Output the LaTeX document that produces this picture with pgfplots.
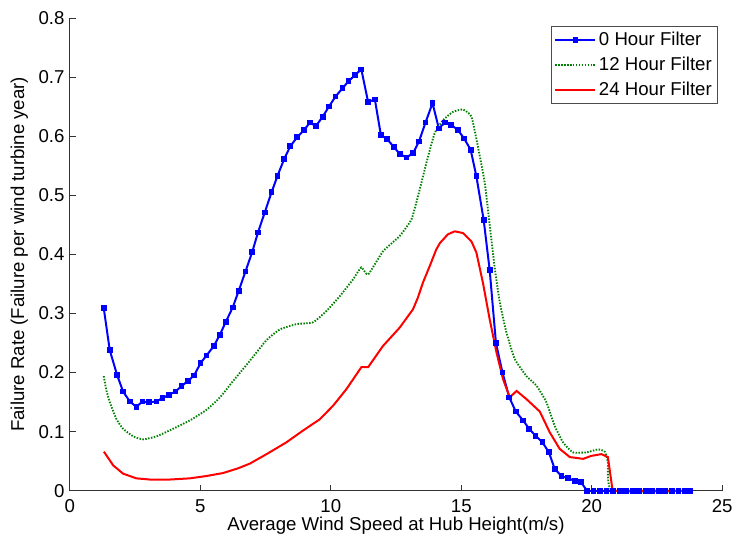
\documentclass[border=0pt]{standalone}
\usepackage{fontspec}
\setmainfont{Liberation Sans}
\usepackage{pgfplots}
\pgfplotsset{compat=1.18}

\definecolor{mblue}{RGB}{0,0,255}
\definecolor{mgreen}{RGB}{0,128,0}
\definecolor{mred}{RGB}{255,0,0}

\begin{document}
\begin{tikzpicture}
\begin{axis}[
    name=ax,
    scale only axis,
    width=490.5pt, height=355.5pt,
    xmin=0, xmax=25, ymin=0, ymax=0.8,
    xtick={0,5,...,25},
    ytick={0,0.1,...,0.8},
    yticklabels={0,0.1,0.2,0.3,0.4,0.5,0.6,0.7,0.8},
    axis lines*=left,
    axis line style={line width=0.6pt, black!80},
    tick align=inside,
    major tick length=4.5pt,
    tick style={black!80, line width=0.6pt},
    font=\fontsize{14}{16.8}\selectfont,
    /pgf/number format/assume math mode=true,
    xticklabel style={anchor=north, inner ysep=0pt, text height=10pt, text depth=0pt, yshift=-6pt},
    yticklabel style={xshift=-0.5pt},
    every axis x label/.style={at={(axis description cs:0.5,0)}, yshift=-26pt, anchor=center,
        inner ysep=0pt},
    every axis y label/.style={at={(axis description cs:0,0.5)}, xshift=-38pt, rotate=90, anchor=center},
    xlabel={Average Wind Speed at Hub Height(m/s)},
    ylabel={Failure Rate (Failure per wind turbine year)},
    clip=false,
    legend cell align=left,
    legend style={at={(0.993,0.984)}, anchor=north east, draw=black!70, line width=0.8pt,
        font=\fontsize{14}{16.8}\selectfont, row sep=3.2pt, inner xsep=2pt, inner ysep=2.5pt},
    legend image code/.code={\draw[#1] (0pt,0pt) -- (30pt,0pt);
        \draw[#1, mark repeat=1] plot coordinates {(15pt,0pt)};},
]
\addplot[mblue, line width=1.5pt, mark=square*, mark size=1.4pt] coordinates {
(1.30,0.309) (1.53,0.238) (1.81,0.196) (2.04,0.168) (2.30,0.151) (2.55,0.142)
(2.78,0.151) (3.04,0.150) (3.32,0.151) (3.55,0.157) (3.79,0.162) (4.05,0.168)
(4.28,0.177) (4.53,0.186) (4.76,0.195) (5.01,0.216) (5.24,0.229) (5.52,0.245)
(5.75,0.264) (5.98,0.286) (6.24,0.310) (6.47,0.338) (6.73,0.371) (6.99,0.404)
(7.21,0.437) (7.47,0.471) (7.73,0.505) (7.96,0.533) (8.21,0.561) (8.45,0.583)
(8.71,0.598) (8.97,0.610) (9.20,0.623) (9.43,0.617) (9.69,0.633) (9.93,0.650)
(10.18,0.667) (10.45,0.681) (10.68,0.693) (10.92,0.703) (11.17,0.713) (11.43,0.658)
(11.69,0.662) (11.92,0.602) (12.16,0.595) (12.41,0.582) (12.64,0.570) (12.90,0.564)
(13.15,0.571) (13.38,0.591) (13.63,0.623) (13.90,0.656) (14.14,0.613) (14.37,0.623)
(14.62,0.619) (14.88,0.610) (15.11,0.596) (15.36,0.577) (15.58,0.532) (15.86,0.458)
(16.09,0.373) (16.33,0.250) (16.58,0.200) (16.84,0.158) (17.09,0.134) (17.37,0.119)
(17.60,0.105) (17.85,0.093) (18.11,0.082) (18.36,0.065) (18.58,0.037) (18.84,0.025)
(19.09,0.021) (19.35,0.017) (19.58,0.015) (19.82,0) (20.07,0) (20.32,0)
(20.57,0) (20.82,0) (21.07,0) (21.32,0) (21.57,0) (21.82,0) (22.07,0) (22.32,0)
(22.57,0) (22.82,0) (23.07,0) (23.32,0) (23.57,0) (23.77,0)
};
\addlegendentry{0 Hour Filter}
\addplot[mgreen, line width=1.4pt, dash pattern=on 1.1pt off 1.1pt, smooth, tension=0.3] coordinates {
(1.30,0.194) (1.40,0.170) (1.53,0.150) (1.79,0.121) (2.04,0.105) (2.43,0.092)
(2.81,0.087) (3.32,0.092) (3.96,0.105) (4.60,0.119) (5.00,0.130) (5.24,0.137)
(5.62,0.152) (5.87,0.164) (6.26,0.186) (6.45,0.196) (6.90,0.220) (7.54,0.255)
(8.05,0.273) (8.69,0.282) (9.32,0.285) (9.83,0.304) (10.34,0.329) (10.86,0.358)
(11.17,0.378) (11.43,0.366) (12.00,0.405) (12.64,0.431) (13.09,0.459) (13.34,0.498)
(13.66,0.554) (13.98,0.605) (14.30,0.627) (14.68,0.641) (15.07,0.645) (15.39,0.633)
(15.64,0.582) (15.90,0.521) (16.09,0.450) (16.28,0.378) (16.48,0.318) (16.73,0.268)
(17.05,0.223) (17.50,0.194) (17.88,0.178) (18.26,0.150) (18.58,0.110) (18.90,0.082)
(19.28,0.065) (19.80,0.065) (20.24,0.070) (20.50,0.066) (20.62,0.048) (20.80,0)
(23.77,0)
};
\addlegendentry{12 Hour Filter}
\addplot[mred, line width=1.5pt] coordinates {
(1.30,0.066) (1.34,0.064) (1.66,0.043) (2.04,0.029) (2.55,0.021) (3.07,0.019)
(3.83,0.019) (4.60,0.021) (5.24,0.025) (5.87,0.030) (6.45,0.038) (6.90,0.046)
(7.54,0.062) (8.30,0.082) (8.94,0.102) (9.58,0.121) (10.09,0.144) (10.60,0.172)
(11.17,0.209) (11.43,0.209) (12.00,0.245) (12.64,0.276) (13.15,0.307) (13.34,0.327)
(13.53,0.352) (13.79,0.380) (14.04,0.408) (14.18,0.419) (14.49,0.434) (14.75,0.439)
(15.07,0.436) (15.39,0.422) (15.58,0.403) (15.83,0.352) (16.09,0.290) (16.35,0.234)
(16.60,0.189) (16.86,0.158) (17.12,0.169) (17.50,0.155) (18.01,0.134) (18.39,0.099)
(18.77,0.071) (19.16,0.057) (19.67,0.054) (19.98,0.059) (20.37,0.062) (20.62,0.057)
(20.80,0) (23.77,0)
};
\addlegendentry{24 Hour Filter}
\end{axis}
\path (ax.south west) ++(-52.5pt,-35.25pt) coordinate (bbA);
\path (ax.north east) ++(9.75pt,13.5pt) coordinate (bbB);
\path (bbA) rectangle (bbB);
\end{tikzpicture}
\end{document}
